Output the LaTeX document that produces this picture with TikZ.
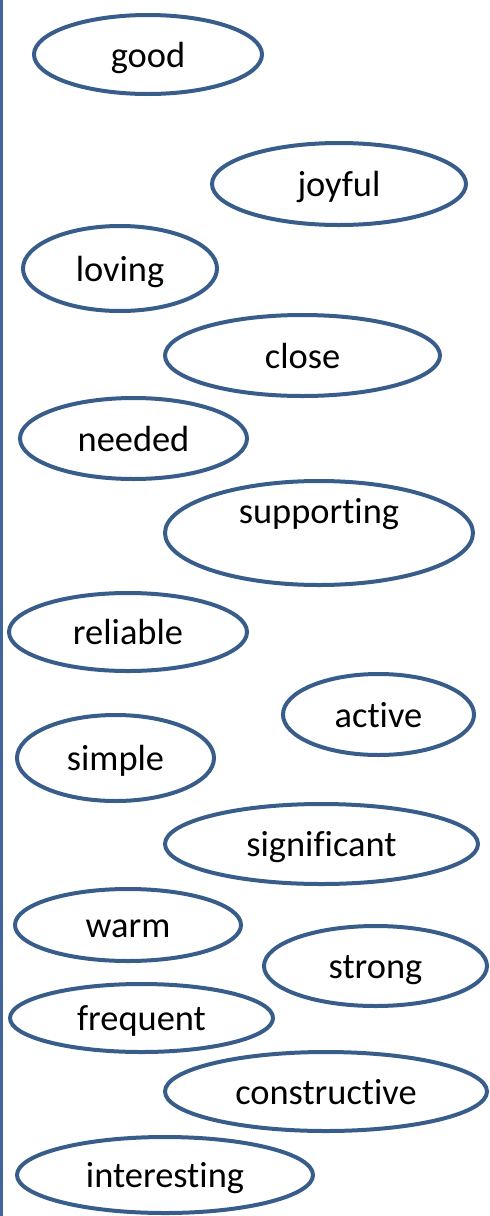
\documentclass[tikz,border=0pt]{standalone}
\usepackage{fontspec}
\setmainfont{Carlito}[Ligatures=NoCommon]
\usepackage{xcolor}
\usepackage{tikz}
\usetikzlibrary{shapes.geometric}
\definecolor{ovalblue}{HTML}{385D8A}
\definecolor{rulecolor}{HTML}{41659A}

\begin{document}
\begin{tikzpicture}[
    x=0.5pt, y=-0.5pt,
    font=\fontsize{18.2pt}{22pt}\selectfont,
    word/.style={ellipse, draw=ovalblue, line width=2pt, inner sep=0pt, text height=14pt, text depth=1.5pt},
    margin/.style={draw=rulecolor, line width=1.5pt}
]
    \useasboundingbox (0,0) rectangle (490,1216);

    % Left margin rule
    \coordinate (rtop) at (1,0);
    \coordinate (rbot) at (1,1216);
    \draw[margin] (rtop) -- (rbot);

    % Word ovals, top to bottom
    \node[word, minimum width=114pt, minimum height=39.5pt] (good) at (148,54.5) {good};
    \node[word, minimum width=127pt, minimum height=41pt] (joyful) at (339,184) {joyful};
    \node[word, minimum width=97pt, minimum height=42.5pt] (loving) at (120,268.5) {loving};
    \node[word, minimum width=137.5pt, minimum height=40.5pt] (close) at (302.5,355.5) {close};
    \node[word, minimum width=113.5pt, minimum height=40.5pt] (needed) at (133.5,438.5) {needed};
    \node[word, minimum width=154pt, minimum height=52pt] (supporting) at (319,533) {\raisebox{11pt}{supporting}};
    \node[word, minimum width=119pt, minimum height=39pt] (reliable) at (128,632) {reliable};
    \node[word, minimum width=95.5pt, minimum height=40.5pt] (active) at (378.5,714.5) {active};
    \node[word, minimum width=98.5pt, minimum height=43pt] (simple) at (115.5,758) {simple};
    \node[word, minimum width=156.5pt, minimum height=40pt] (significant) at (321.5,844) {significant};
    \node[word, minimum width=113pt, minimum height=36pt] (warm) at (128,925) {warm};
    \node[word, minimum width=111.5pt, minimum height=40pt] (strong) at (375.5,966) {strong};
    \node[word, minimum width=131.5pt, minimum height=34pt] (frequent) at (141.5,1018) {frequent};
    \node[word, minimum width=161pt, minimum height=39.5pt] (constructive) at (326,1091.5) {constructive};
    \node[word, minimum width=148pt, minimum height=38pt] (interesting) at (165,1175) {interesting};
\end{tikzpicture}
\end{document}
